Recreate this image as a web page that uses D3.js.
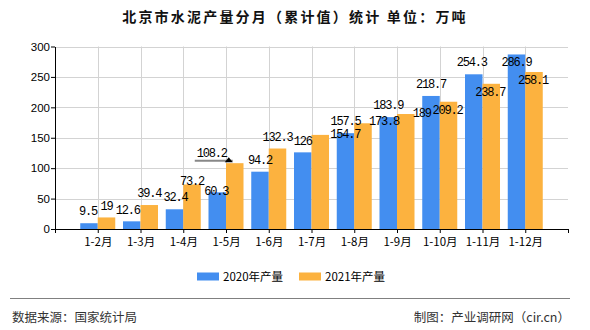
<!DOCTYPE html>
<html>
<head>
<meta charset="utf-8">
<script src="https://cdn.jsdelivr.net/npm/d3@7"></script>
<style>
  html, body { margin: 0; padding: 0; background: #fff; }
  svg { display: block; }
</style>
</head>
<body>
<svg id="chart" width="590" height="330"></svg>
<script>
const categories = ["1-2月","1-3月","1-4月","1-5月","1-6月","1-7月","1-8月","1-9月","1-10月","1-11月","1-12月"];
const values2020 = [9.5, 12.6, 32.4, 60.3, 94.2, 126, 157.5, 183.9, 218.7, 254.3, 286.9];
const values2021 = [19, 39.4, 73.2, 108.2, 132.3, 154.7, 173.8, 189, 209.2, 238.7, 258.1];
const seriesNames = ["2020年产量", "2021年产量"];
const yTicks = [0, 50, 100, 150, 200, 250, 300];

// label nudges (layout only) [dx, dy]
const nudge2020 = [[-1,0],[-4,0],[1,0],[-1,10],[0,0],[0,0],[0,0],[0,0],[0,0],[-2,-1],[0,19]];
const nudge2021 = [[0,0],[0,0],[0,8],[-23,2],[0,0],[25,11],[21,10],[16,11],[-1,20],[-1,20],[-1,20]];

const colors = ["#438ef0", "#fcb23f"];
const svg = d3.select("#chart");
const pLeft = 55, pRight = 568, pTop = 46.5, pBottom = 229;
const barW = 17.5;

const x = d3.scalePoint().domain(categories).range([pLeft, pRight]).padding(1);
const y = d3.scaleLinear().domain([0, 300]).range([pBottom, pTop]);

// title
svg.append("text")
  .attr("x", 295).attr("y", 22)
  .attr("text-anchor", "middle")
  .attr("font-family", "'Noto Sans CJK SC', sans-serif")
  .attr("font-size", 14).attr("font-weight", "bold")
  .attr("letter-spacing", 2.2)
  .attr("fill", "#111")
  .text("北京市水泥产量分月（累计值）统计 单位：万吨");

// grid
const grid = svg.append("g").attr("stroke", "#d3d3d3").attr("stroke-width", 1);
yTicks.filter(t => t > 0).forEach(t => {
  grid.append("line").attr("x1", pLeft).attr("x2", pRight)
    .attr("y1", Math.round(y(t)) + 0.5).attr("y2", Math.round(y(t)) + 0.5);
});
categories.forEach(c => {
  grid.append("line").attr("x1", Math.round(x(c)) + 0.5).attr("x2", Math.round(x(c)) + 0.5)
    .attr("y1", pTop).attr("y2", pBottom);
});

// bars
const series = [values2020, values2021];
series.forEach((vals, si) => {
  svg.append("g").selectAll("rect").data(vals).join("rect")
    .attr("x", (d, i) => x(categories[i]) - barW + si * barW)
    .attr("y", d => y(d))
    .attr("width", barW)
    .attr("height", d => pBottom - y(d))
    .attr("fill", colors[si]);
});

// axes
const xAxis = d3.axisBottom(x).tickSize(4).tickSizeOuter(0);
const gx = svg.append("g").attr("transform", `translate(0,${pBottom})`).call(xAxis);
gx.select(".domain").attr("stroke", "#000");
gx.selectAll(".tick line").attr("stroke", "#000");
gx.selectAll(".tick text")
  .attr("font-family", "'Noto Sans CJK SC', sans-serif")
  .attr("font-size", 11.5).attr("fill", "#000").attr("dy", "0.9em");
[pLeft, pRight].forEach(px => {
  gx.append("line").attr("x1", px + 0.5).attr("x2", px + 0.5).attr("y1", 0).attr("y2", 4).attr("stroke", "#000");
});

const yAxis = d3.axisLeft(y).tickValues(yTicks).tickSize(4).tickSizeOuter(0);
const gy = svg.append("g").attr("transform", `translate(${pLeft},0)`).call(yAxis);
gy.select(".domain").attr("stroke", "#000");
gy.selectAll(".tick line").attr("stroke", "#000");
gy.selectAll(".tick text")
  .attr("font-family", "'Liberation Sans', Arial, sans-serif")
  .attr("font-size", 11.5).attr("fill", "#000").attr("x", -5);

// data labels
const labelFont = "'Liberation Mono', 'DejaVu Sans Mono', monospace";
[[values2020, nudge2020, 0], [values2021, nudge2021, 1]].forEach(([vals, nud, si]) => {
  svg.append("g").selectAll("text").data(vals).join("text")
    .attr("x", (d, i) => x(categories[i]) - barW / 2 + si * barW + nud[i][0])
    .attr("y", (d, i) => y(d) - 12 + nud[i][1])
    .attr("dy", "0.35em")
    .attr("text-anchor", "middle")
    .attr("font-family", labelFont)
    .attr("font-size", 12)
    .attr("letter-spacing", -1.2)
    .attr("fill", "#000")
    .text(d => d);
});

// callout marker at 1-5 2021
{
  const cx = x(categories[3]) + barW / 2;
  const cy = y(values2021[3]);
  svg.append("line")
    .attr("x1", cx - 40).attr("x2", cx - 2)
    .attr("y1", cy - 2.5).attr("y2", cy - 2.5)
    .attr("stroke", "#888").attr("stroke-width", 2);
  svg.append("path")
    .attr("d", `M${cx - 6},${cy - 6} L${cx - 2},${cy - 1} L${cx - 10},${cy - 1} Z`)
    .attr("fill", "#000");
}

// legend
const leg = svg.append("g");
[[197, 0], [299, 1]].forEach(([lx, si]) => {
  leg.append("rect").attr("x", lx).attr("y", 272.5).attr("width", 22).attr("height", 8).attr("fill", colors[si]);
  leg.append("text").attr("x", lx + 26).attr("y", 276.5).attr("dy", "0.35em")
    .attr("font-family", "'Noto Sans CJK SC', sans-serif")
    .attr("font-size", 11.5).attr("fill", "#000")
    .text(seriesNames[si]);
});

// footer
svg.append("line").attr("x1", 10).attr("x2", 570).attr("y1", 298.5).attr("y2", 298.5)
  .attr("stroke", "#808080").attr("stroke-width", 1.2);
svg.append("text").attr("x", 12).attr("y", 317.5).attr("dy", "0.35em")
  .attr("font-family", "'Noto Sans CJK SC', sans-serif").attr("font-size", 12.5).attr("fill", "#333")
  .text("数据来源：国家统计局");
svg.append("text").attr("x", 570).attr("y", 317.5).attr("dy", "0.35em").attr("text-anchor", "end")
  .attr("font-family", "'Noto Sans CJK SC', sans-serif").attr("font-size", 12.5).attr("fill", "#333")
  .text("制图：产业调研网（cir.cn）");
</script>
</body>
</html>
